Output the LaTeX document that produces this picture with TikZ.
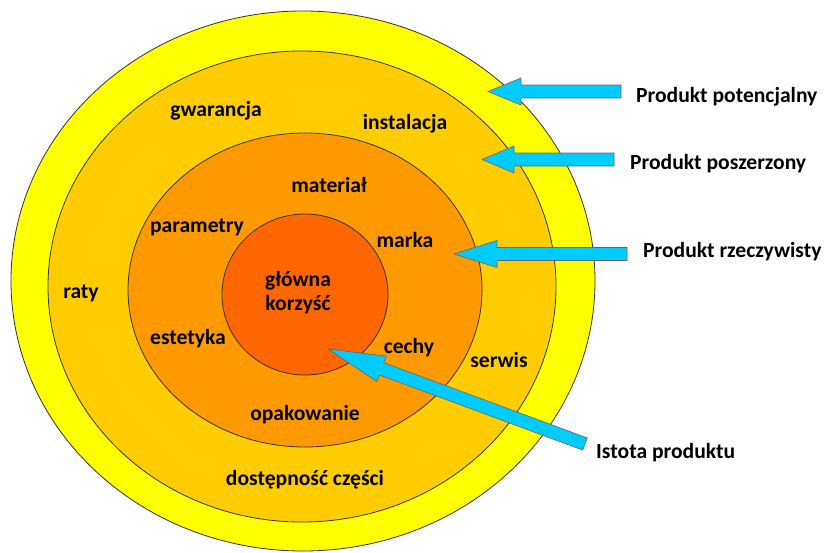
\documentclass[tikz,border=0pt]{standalone}
\usepackage{fontspec}
\setmainfont{Carlito}
\usetikzlibrary{shapes.geometric,calc}

\definecolor{ringA}{HTML}{FFFF00}
\definecolor{ringB}{HTML}{FFCC00}
\definecolor{ringC}{HTML}{FF9900}
\definecolor{ringD}{HTML}{FF6600}
\definecolor{arrowblue}{HTML}{00CCFF}

% block arrow: tail, tip, head length
\newcommand{\blockarrow}[3]{%
  \coordinate (#2-b) at ($(#2)!#3!(#1)$);
  \draw[arrowfill] (#2) -- ($(#2-b)!13.5pt!90:(#1)$) -- ($(#2-b)!6.5pt!90:(#1)$)
    -- ($(#1)!6.5pt!-90:(#2)$) -- ($(#1)!6.5pt!90:(#2)$)
    -- ($(#2-b)!6.5pt!-90:(#1)$) -- ($(#2-b)!13.5pt!-90:(#1)$) -- cycle;}

\begin{document}
\begin{tikzpicture}[x=1pt,y=-1pt,
    ring/.style ={ellipse, draw=black!80, line width=0.8pt, inner sep=0pt},
    txt/.style ={font=\bfseries\fontsize{21.6}{24}\selectfont, inner sep=0pt, text=black},
    side/.style ={txt, anchor=west},
    arrowfill/.style ={fill=arrowblue, draw=black!60, line width=0.6pt, line join=miter}]
   \useasboundingbox (0,0) rectangle (829,552);
   % rings
   \node[ring, fill=ringA, minimum width=584pt, minimum height=540pt] (potencjalny) at (303,281) {};
   \node[ring, fill=ringB, minimum width=508pt, minimum height=471pt] (poszerzony) at (302,286.5) {};
   \node[ring, fill=ringC, minimum width=354pt, minimum height=314pt] (rzeczywisty) at (305,290) {};
   \node[ring, fill=ringD, minimum width=166pt, minimum height=161pt] (istota) at (305,294.5) {};
   % ring texts
   \node[txt] (gwarancja) at (216,111) {gwarancja};
   \node[txt] (instalacja) at (405,124) {instalacja};
   \node[txt] (raty) at (81,293) {raty};
   \node[txt] (serwis) at (499,360) {serwis};
   \node[txt] (dostepnosc) at (305,480) {dostępność części};
   \node[txt] (material) at (329,185) {materiał};
   \node[txt] (parametry) at (197,227) {parametry};
   \node[txt] (marka) at (405,240) {marka};
   \node[txt] (estetyka) at (188,339) {estetyka};
   \node[txt] (cechy) at (409,348) {cechy};
   \node[txt] (opakowanie) at (305,415) {opakowanie};
   \node[txt, align=center] (korzysc) at (298,293) {główna\\korzyść};
   % side labels
   \node[side] (lpot) at (636,97) {Produkt potencjalny};
   \node[side] (lposz) at (630,164) {Produkt poszerzony};
   \node[side] (lrzecz) at (643,252) {Produkt rzeczywisty};
   \node[side] (listota) at (596,453) {Istota produktu};
   % arrows
   \coordinate (pot-tail) at (621,91.5);
   \coordinate (pot-tip) at (488,91.5);
   \coordinate (posz-tail) at (614,159.5);
   \coordinate (posz-tip) at (482,159.5);
   \coordinate (rzecz-tail) at (627,254);
   \coordinate (rzecz-tip) at (454,254);
   \coordinate (ist-tail) at (585,444);
   \coordinate (ist-tip) at (328,349);
   \blockarrow{pot-tail}{pot-tip}{33pt}
   \blockarrow{posz-tail}{posz-tip}{32pt}
   \blockarrow{rzecz-tail}{rzecz-tip}{43pt}
   \blockarrow{ist-tail}{ist-tip}{57pt}
 \end{tikzpicture}
\end{document}
